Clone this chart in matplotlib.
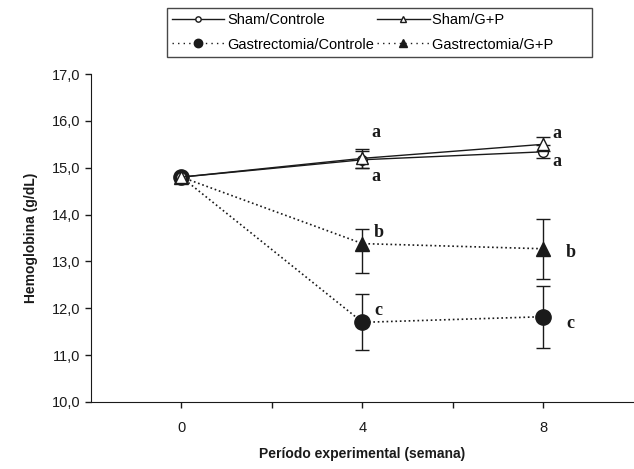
import matplotlib as mpl
import matplotlib.pyplot as plt
from matplotlib.lines import Line2D
from matplotlib.ticker import FuncFormatter

mpl.rcParams["font.family"] = ["Liberation Sans", "DejaVu Sans"]

# semanas
weeks = [0, 4, 8]

sham_ctrl = [14.80, 15.17, 15.34]
sham_ctrl_err = [0.0, 0.18, 0.14]
sham_gp = [14.80, 15.20, 15.50]
sham_gp_err = [0.0, 0.20, 0.15]
gast_ctrl = [14.80, 11.70, 11.82]
gast_ctrl_err = [0.0, 0.60, 0.66]
gast_gp = [14.80, 13.38, 13.27]
gast_gp_err_low = [0.0, 0.62, 0.65]
gast_gp_err_high = [0.0, 0.32, 0.63]

# letras de significancia
letters_x = [4, 4, 8, 8, 4, 8, 4, 8]
letters_y = [15.75, 14.82, 15.72, 15.13, 13.62, 13.2, 11.95, 11.68]
letters = ["a", "a", "a", "a", "b", "b", "c", "c"]
letters_dx = [0.0, 0.0, 0.0, 0.0, 0.05, 0.3, 0.05, 0.3]

INK = "#1a1a1a"

fig = plt.figure(figsize=(6.34, 4.69), dpi=100)
ax = fig.add_axes([0.1435, 0.1429, 0.8565, 0.6993])

eb = dict(fmt="none", capsize=5, elinewidth=1.0, capthick=1.0, ecolor=INK)

series = [
    (gast_ctrl, [gast_ctrl_err, gast_ctrl_err], ":", 1.2, "o", 11, INK, "Gastrectomia/Controle"),
    (gast_gp, [gast_gp_err_low, gast_gp_err_high], ":", 1.2, "^", 10, INK, "Gastrectomia/G+P"),
    (sham_ctrl, [sham_ctrl_err, sham_ctrl_err], "-", 1.0, "o", 7, "white", "Sham/Controle"),
    (sham_gp, [sham_gp_err, sham_gp_err], "-", 1.0, "^", 9, "white", "Sham/G+P"),
]

handles = {}
for y, err, ls, lw, mk, ms, fc, lab in series:
    ax.errorbar(weeks[1:], y[1:], yerr=[err[0][1:], err[1][1:]], **eb)
    ax.plot(weeks, y, color=INK, ls=ls, lw=lw, marker=mk, ms=ms, mfc=fc,
            mec=INK, mew=1.0)
    handles[lab] = Line2D([], [], color=INK, ls=(0, (1, 3)) if ls == ":" else ls,
                          lw=1.0, marker=mk, ms=ms * 0.55, mfc=fc, mec=INK,
                          mew=1.0)

for x, y, t, dx in zip(letters_x, letters_y, letters, letters_dx):
    ax.text(x + 0.3 + dx, y, t, fontsize=13, fontweight="bold",
            family="Liberation Serif", color=INK, ha="center", va="center")

ax.set_xlim(-2, 10)
ax.set_ylim(10, 17)
ax.set_xticks([0, 2, 4, 6, 8])
ax.set_xticklabels(["0", "", "4", "", "8"])
ax.set_yticks(range(10, 18))
ax.yaxis.set_major_formatter(FuncFormatter(lambda v, p: f"{v:.1f}".replace(".", ",")))
ax.tick_params(direction="out", length=4, width=1, colors=INK, labelsize=10.5)
ax.tick_params(axis="x", pad=10)
for s in ["top", "right"]:
    ax.spines[s].set_visible(False)
for s in ["left", "bottom"]:
    ax.spines[s].set_color(INK)

ax.set_xlabel("Período experimental (semana)", fontsize=10, fontweight="bold",
              color=INK, labelpad=8)
ax.set_ylabel("Hemoglobina (g/dL)", fontsize=10, fontweight="bold", color=INK,
              labelpad=10)

order = ["Sham/Controle", "Gastrectomia/Controle", "Sham/G+P", "Gastrectomia/G+P"]
leg_labels = ["Sham/Controle", "Gastrectomia/Controle", "Sham/G+P        ",
              "Gastrectomia/G+P        "]
leg = fig.legend([handles[k] for k in order], leg_labels,
                 ncol=2, loc="upper left", bbox_to_anchor=(0.263, 0.984),
                 fontsize=10.5, frameon=True, fancybox=False, edgecolor=INK,
                 handlelength=3.6, handletextpad=0.2, columnspacing=0.2,
                 borderpad=0.35, borderaxespad=0.0, labelspacing=0.75)
leg.get_frame().set_linewidth(1.0)

fig.savefig("out.png", dpi=100)
